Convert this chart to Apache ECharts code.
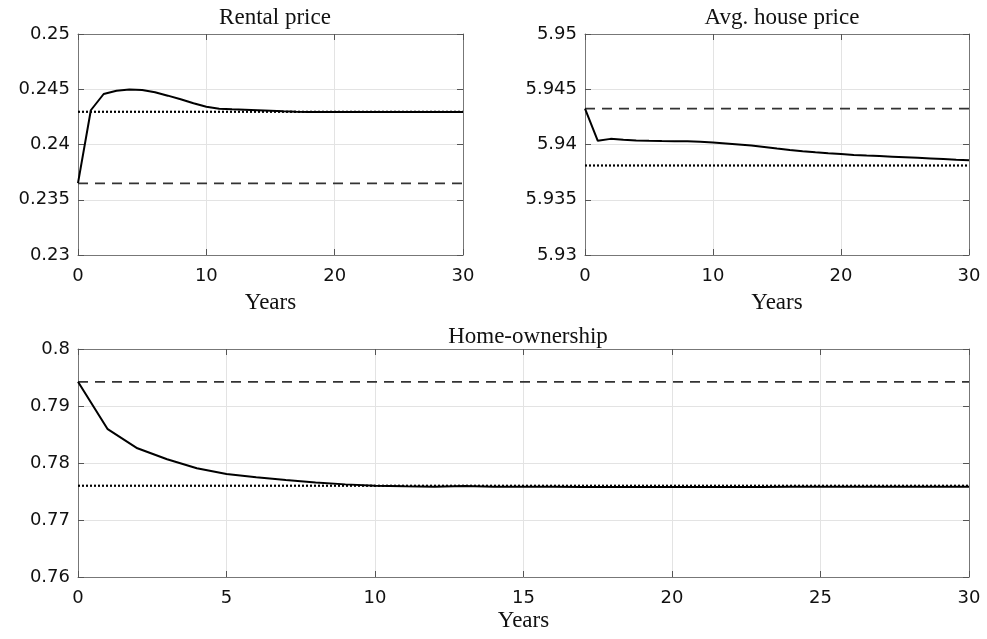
<!DOCTYPE html>
<html>
<head>
<meta charset="utf-8">
<script src="https://cdn.jsdelivr.net/npm/echarts@6/dist/echarts.min.js"></script>
<style>
  html, body { margin: 0; padding: 0; background: #fff; }
  #chart { width: 987px; height: 639px; }
</style>
</head>
<body>
<div id="chart"></div>
<script>
// years 0..30
var years = []
for (var i = 0; i <= 30; i++) years.push(i)

// rental price path and steady states
var rentPath = [0.2365, 0.2431, 0.24457, 0.24487, 0.24497, 0.24494, 0.24473, 0.24442, 0.24409, 0.24373,
  0.24342, 0.24324, 0.24318, 0.24315, 0.2431, 0.24305, 0.243, 0.24297, 0.24295, 0.24295,
  0.24295, 0.24295, 0.24295, 0.24295, 0.24295, 0.24295, 0.24295, 0.24295, 0.24295, 0.24295, 0.24295]
var rentOld = 0.23648
var rentNew = 0.24296

// average house price path and steady states
var housePath = [5.94324, 5.94033, 5.94051, 5.94043, 5.94037, 5.94033, 5.94031, 5.9403, 5.94029, 5.94025,
  5.94018, 5.9401, 5.94001, 5.9399, 5.93977, 5.93963, 5.9395, 5.93939, 5.93929, 5.9392,
  5.93913, 5.93906, 5.939, 5.93895, 5.9389, 5.93885, 5.9388, 5.93874, 5.93868, 5.93862, 5.93857]
var houseOld = 5.94324
var houseNew = 5.9381

// home-ownership path and steady states
var ownPath = [0.79425, 0.78593, 0.78258, 0.78065, 0.77907, 0.77807, 0.7775, 0.77701, 0.7766, 0.77625,
  0.77601, 0.7759, 0.77582, 0.77598, 0.77585, 0.77583, 0.77582, 0.77581, 0.7758, 0.7758,
  0.7758, 0.7758, 0.77581, 0.77581, 0.77582, 0.77582, 0.77583, 0.77583, 0.77584, 0.77584, 0.77585]
var ownOld = 0.79425
var ownNew = 0.77601

// axis ticks
var rentTicks = { min: 0.23, max: 0.25, interval: 0.005 }
var houseTicks = { min: 5.93, max: 5.95, interval: 0.005 }
var ownTicks = { min: 0.76, max: 0.80, interval: 0.01 }
var topXInterval = 10
var bottomXInterval = 5

var labelFont = { fontFamily: 'DejaVu Sans', fontSize: 18, color: '#111' }
var serifFont = { fontFamily: 'Liberation Serif', fontSize: 23, color: '#111', fontWeight: 'normal' }

function pairs (arr) {
  var out = []
  for (var k = 0; k < arr.length; k++) out.push([years[k], arr[k]])
  return out
}
function flat (v) {
  return [[0, v], [30, v]]
}

var grids = [
  { left: 78, top: 34, width: 385, height: 221, outerBoundsMode: 'none', containLabel: false },
  { left: 585, top: 34, width: 384, height: 221, outerBoundsMode: 'none', containLabel: false },
  { left: 78, top: 349, width: 891, height: 228, outerBoundsMode: 'none', containLabel: false }
]
var xAxes = []
var yAxes = []
var xInts = [topXInterval, topXInterval, bottomXInterval]
var nameGaps = [36, 36, 32]
var yTicks = [rentTicks, houseTicks, ownTicks]
var ydec = [function (v) { return +v.toFixed(3) + '' }, function (v) { return +v.toFixed(3) + '' }, function (v) { return +v.toFixed(2) + '' }]

for (var g = 0; g < 3; g++) {
  xAxes.push({
    type: 'value', gridIndex: g, min: 0, max: 30, interval: xInts[g],
    name: 'Years', nameLocation: 'middle', nameGap: nameGaps[g], nameTextStyle: serifFont,
    axisLine: { show: true, onZero: false, lineStyle: { color: '#777', width: 1 } },
    axisTick: { show: true, inside: true, length: 6, lineStyle: { color: '#555' } },
    axisLabel: Object.assign({ margin: 12 }, labelFont),
    splitLine: { show: true, lineStyle: { color: '#e3e3e3', width: 1 } }
  })
  xAxes.push({
    type: 'value', gridIndex: g, min: 0, max: 30, interval: xInts[g], position: 'top',
    axisLine: { show: true, onZero: false, lineStyle: { color: '#777', width: 1 } },
    axisTick: { show: true, inside: true, length: 6, lineStyle: { color: '#555' } },
    axisLabel: { show: false }, splitLine: { show: false }
  })
  yAxes.push({
    type: 'value', gridIndex: g, min: yTicks[g].min, max: yTicks[g].max, interval: yTicks[g].interval,
    axisLine: { show: true, onZero: false, lineStyle: { color: '#777', width: 1 } },
    axisTick: { show: true, inside: true, length: 6, lineStyle: { color: '#555' } },
    axisLabel: Object.assign({ margin: 8, formatter: ydec[g] }, labelFont),
    splitLine: { show: true, lineStyle: { color: '#e3e3e3', width: 1 } }
  })
  yAxes.push({
    type: 'value', gridIndex: g, min: yTicks[g].min, max: yTicks[g].max, interval: yTicks[g].interval, position: 'right',
    axisLine: { show: true, onZero: false, lineStyle: { color: '#777', width: 1 } },
    axisTick: { show: true, inside: true, length: 6, lineStyle: { color: '#555' } },
    axisLabel: { show: false }, splitLine: { show: false }
  })
}

function line (g, data, type, color, width) {
  return {
    type: 'line', xAxisIndex: g * 2, yAxisIndex: g * 2, data: data,
    symbol: 'none', silent: true, animation: false,
    lineStyle: { color: color, width: width, type: type }
  }
}

var series = [
  line(0, flat(rentOld), [10, 7], '#333', 1.8),
  line(0, flat(rentNew), [2, 2], '#000', 2.2),
  line(0, pairs(rentPath), 'solid', '#000', 2),
  line(1, flat(houseOld), [10, 7], '#333', 1.8),
  line(1, flat(houseNew), [2, 2], '#000', 2.2),
  line(1, pairs(housePath), 'solid', '#000', 2),
  line(2, flat(ownOld), [10, 7], '#333', 1.8),
  line(2, flat(ownNew), [2, 2], '#000', 2.2),
  line(2, pairs(ownPath), 'solid', '#000', 2)
]

var chart = echarts.init(document.getElementById('chart'))
chart.setOption({
  backgroundColor: '#fff',
  animation: false,
  title: [
    { text: 'Rental price', left: 270, top: 1, textAlign: 'center', textStyle: serifFont },
    { text: 'Avg. house price', left: 777, top: 1, textAlign: 'center', textStyle: serifFont },
    { text: 'Home-ownership', left: 523, top: 320, textAlign: 'center', textStyle: serifFont }
  ],
  grid: grids,
  xAxis: xAxes,
  yAxis: yAxes,
  series: series
})
</script>
</body>
</html>
